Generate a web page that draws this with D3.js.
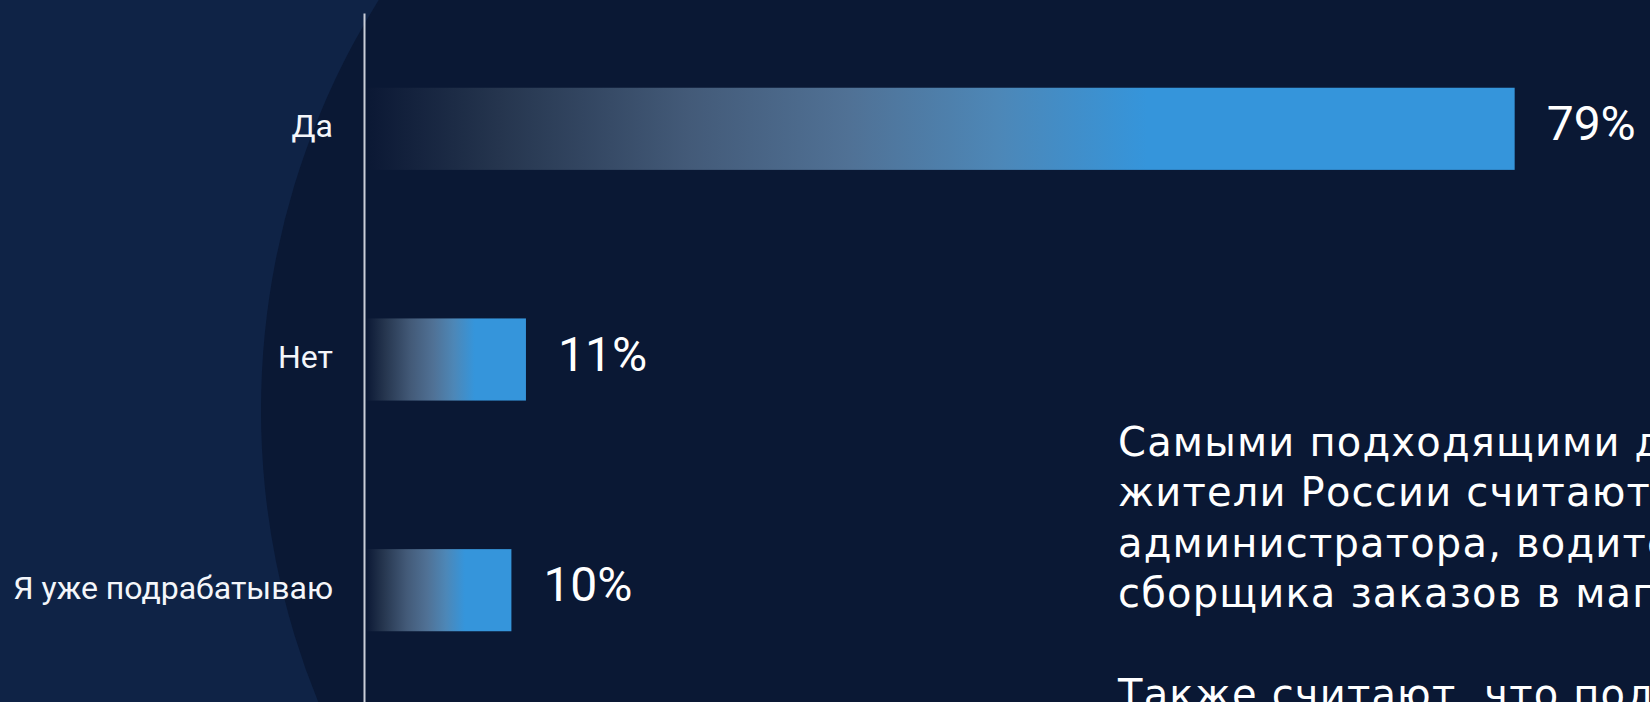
<!DOCTYPE html>
<html>
<head>
<meta charset="utf-8">
<script src="https://cdn.jsdelivr.net/npm/d3@7"></script>
<style>
  html, body { margin: 0; padding: 0; background: #0a1834; overflow: hidden; }
</style>
</head>
<body>
<div id="chart"></div>
<script>
// answers and shares, %
const answers = ["Да", "Нет", "Я уже подрабатываю"];
const shares = [79, 11, 10];
const shareLabels = ["79%", "11%", "10%"];

// text block on the right (runs past the edge of the slide)
const noteLines = [
  "Самыми подходящими для подработки профессиями",
  "жители России считают профессии курьера,",
  "администратора, водителя такси и",
  "сборщика заказов в магазине.",
  "",
  "Также считают, что подработка должна быть удалённой."
];

const width = 1650,
  height = 702;

const svg = d3.select("#chart")
  .append("svg")
  .attr("width", width)
  .attr("height", height);

// background: lighter panel on the left, big dark circle over it
svg.append("rect")
  .attr("width", width)
  .attr("height", height)
  .attr("fill", "#0f2346");

svg.append("circle")
  .attr("cx", 1034)
  .attr("cy", 410)
  .attr("r", 773)
  .attr("fill", "#0a1834");

// gradient for the bars
const grad = svg.append("defs")
  .append("linearGradient")
  .attr("id", "barGrad")
  .attr("x1", "0%").attr("x2", "100%")
  .attr("y1", "0%").attr("y2", "0%");

[[0, "#0b1834"], [0.12, "#26364f"], [0.28, "#435a78"], [0.42, "#507195"],
 [0.55, "#4d87b7"], [0.68, "#3595db"], [1, "#3595db"]]
  .forEach(s => grad.append("stop").attr("offset", s[0]).attr("stop-color", s[1]));

const data = answers.map((a, i) => ({ answer: a, value: shares[i], label: shareLabels[i] }));

// scales
const xScale = d3.scaleLinear()
  .domain([0, 100])
  .range([366, 1820]);

const yScale = d3.scaleBand()
  .domain(answers)
  .range([13, 706])
  .paddingInner(0.644)
  .paddingOuter(0.324);

// bars
svg.append("g")
  .selectAll("rect")
  .data(data)
  .enter()
  .append("rect")
  .attr("x", xScale(0))
  .attr("y", d => yScale(d.answer))
  .attr("width", d => xScale(d.value) - xScale(0))
  .attr("height", yScale.bandwidth())
  .attr("fill", "url(#barGrad)");

// value labels
svg.append("g")
  .selectAll("text")
  .data(data)
  .enter()
  .append("text")
  .attr("x", d => xScale(d.value) + 32)
  .attr("y", d => yScale(d.answer) + yScale.bandwidth() / 2 + 11)
  .text(d => d.label)
  .style("font-family", "Roboto, sans-serif")
  .style("font-size", "48px")
  .style("fill", "#ffffff");

// y axis
const yAxis = d3.axisLeft(yScale)
  .tickSize(0)
  .tickPadding(31);

const axisG = svg.append("g")
  .attr("transform", `translate(${xScale(0) - 2},0)`)
  .call(yAxis);

axisG.select(".domain")
  .attr("stroke", "#c9ced8")
  .attr("stroke-width", 2);

axisG.selectAll(".tick text")
  .attr("dy", "0.27em")
  .style("font-family", "Roboto, sans-serif")
  .style("font-size", "32px")
  .style("fill", "#f4f6fa");

// note text, one tspan per line (empty line kept as a gap)
svg.append("text")
  .style("font-family", "'DejaVu Sans', sans-serif")
  .style("font-size", "40px")
  .style("letter-spacing", "1.2px")
  .style("fill", "#ffffff")
  .selectAll("tspan")
  .data(noteLines)
  .enter()
  .append("tspan")
  .attr("x", 1118)
  .attr("y", (d, i) => 456 + i * 50.4)
  .text(d => d);
</script>
</body>
</html>
